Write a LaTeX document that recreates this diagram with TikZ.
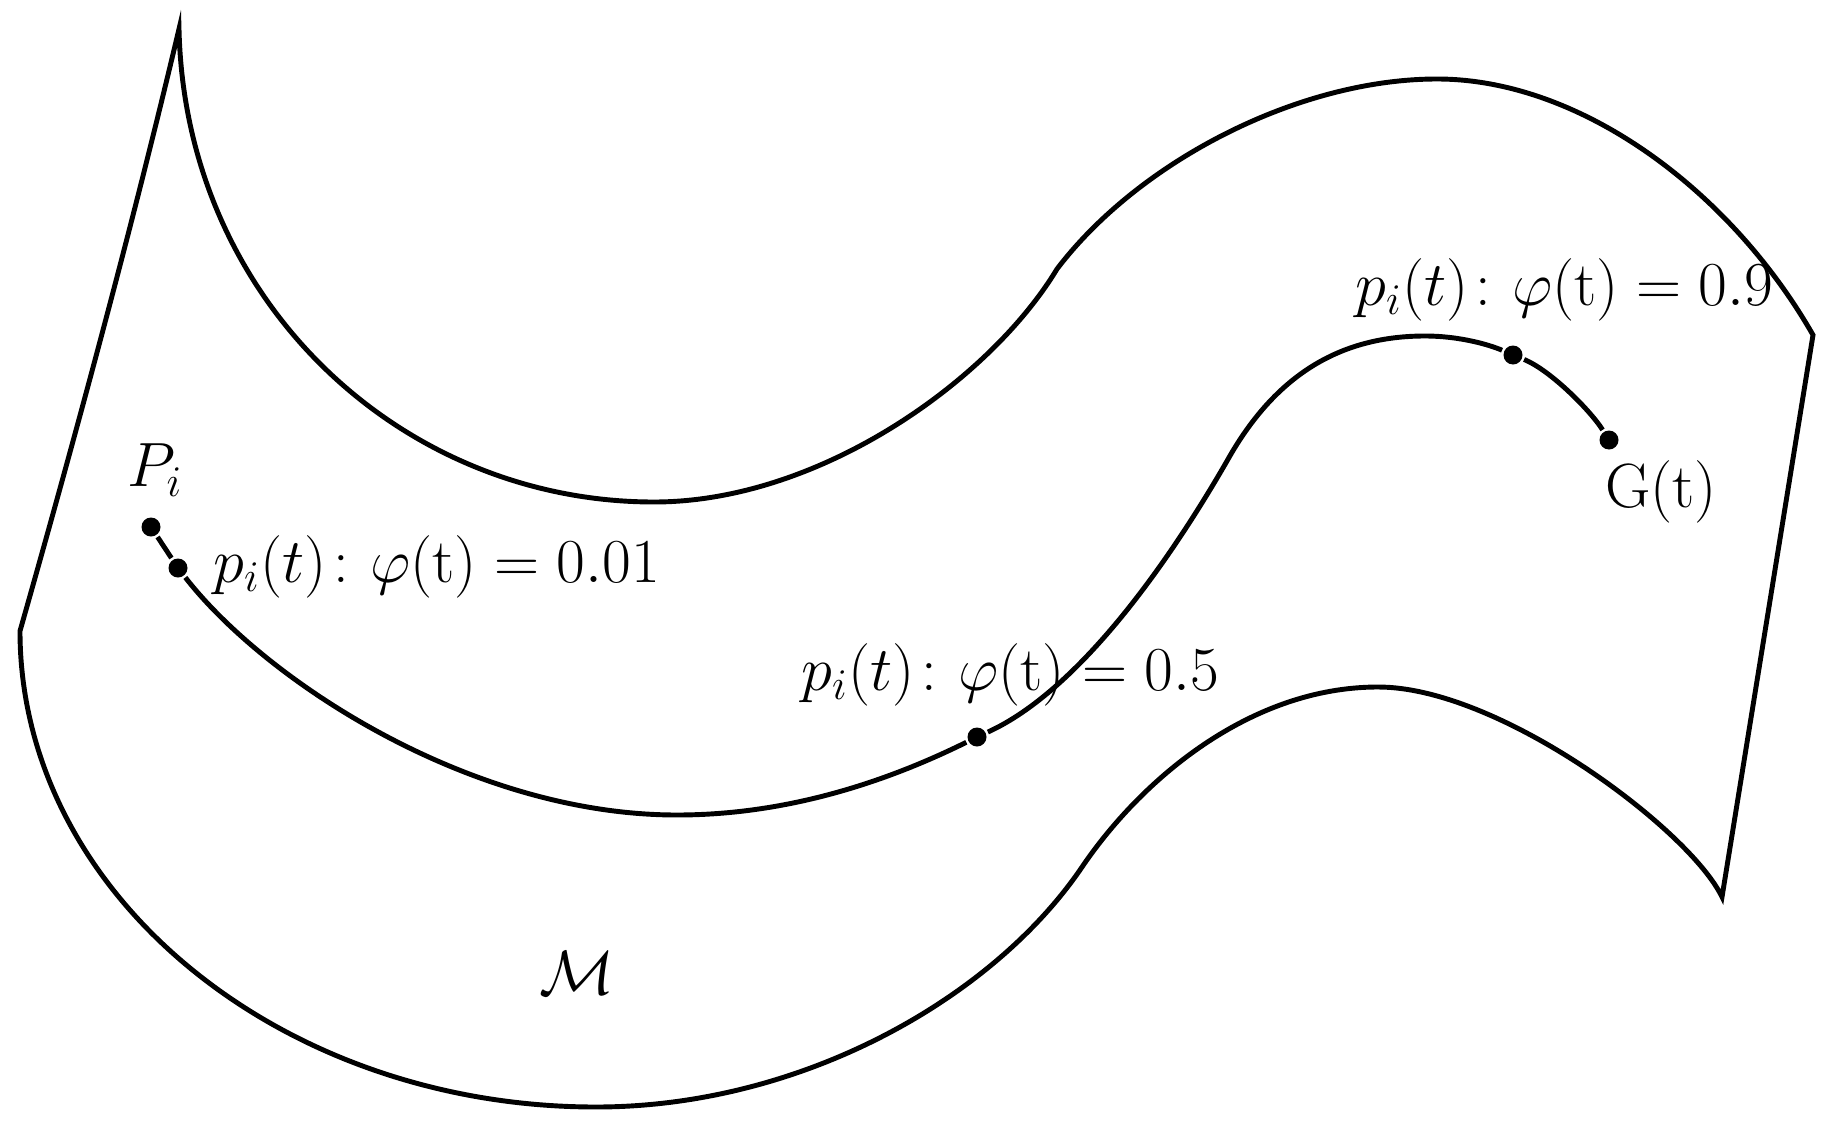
\RequirePackage{fix-cm}
\documentclass[tikz,border=0pt]{standalone}
\usepackage{amsmath}
\usepackage{amssymb}
\usepackage{tikz}
\usetikzlibrary{positioning}
\usetikzlibrary{calc}

\begin{document}
\begin{tikzpicture}[x={(0.1mm,0)},y={(0,-0.1mm)},line width=1.4pt,
		pt/.style={circle,fill=black,inner sep=0pt,minimum size=1.9mm},
		lbl/.style={inner sep=0pt,font=\fontsize{17.8}{22}\selectfont}]
		\useasboundingbox (0,0) rectangle (1834,1139);

		% corners of the surface
		\coordinate (cusp) at (179,29);
		\coordinate (lv) at (20,631);
		\coordinate (rv) at (1813,335);
		\coordinate (br) at (1722,897);

		% upper edge
		\coordinate (tb) at (654,502);
		\coordinate (k1) at (1057,269);
		\coordinate (tt) at (1437,79);
		% lower edge
		\coordinate (lt) at (1378,687);
		\coordinate (k2) at (1080,870);
		\coordinate (lb) at (596,1107);

		\draw[line join=miter] (cusp) .. controls (185,300) and (400,502) .. (tb)
			.. controls (820,502) and (990,380) .. (k1)
			.. controls (1140,160) and (1300,79) .. (tt)
			.. controls (1580,79) and (1730,190) .. (rv)
			-- (br)
			.. controls (1690,830) and (1500,687) .. (lt)
			.. controls (1250,687) and (1140,780) .. (k2)
			.. controls (990,1000) and (800,1107) .. (lb)
			.. controls (279,1107) and (20,893) .. (lv)
			.. controls (80,420) and (135,215) .. (cusp) -- cycle;

		% path on the manifold
		\node[pt] (p0) at (151,527) {};
		\node[pt] (p1) at (178,568) {};
		\node[pt] (p2) at (977,737) {};
		\node[pt] (p3) at (1513,355) {};
		\node[pt] (g) at (1609,440) {};
		\coordinate (mb) at (677,815);
		\coordinate (k3) at (1227,461);
		\coordinate (mt) at (1425,336);

		\draw (p0) -- (p1);
		\draw (p1) .. controls (265,680) and (470,815) .. (mb)
			.. controls (790,815) and (890,780) .. (p2);
		\draw (p2) .. controls (1080,690) and (1170,560) .. (k3)
			.. controls (1275,375) and (1340,336) .. (mt)
			.. controls (1460,336) and (1490,345) .. (p3);
		\draw (p3) .. controls (1550,370) and (1590,410) .. (g);

		% labels
		\node[lbl] (pi) at (155,470) {$P_i$};
		\node[lbl,anchor=base west] (l01) at (211,582) {$p_i(t)\colon \varphi(\mathrm{t}) = 0.01$};
		\node[lbl,anchor=base west] (l05) at (799,690) {$p_i(t)\colon \varphi(\mathrm{t}) = 0.5$};
		\node[lbl,anchor=base west] (l09) at (1353,305) {$p_i(t)\colon \varphi(\mathrm{t}) = 0.9$};
		\node[lbl,anchor=base] (gl) at (1661,507) {G(t)};
		\node[lbl] (man) at (577,973) {$\mathcal{M}$};
	\end{tikzpicture}
\end{document}
